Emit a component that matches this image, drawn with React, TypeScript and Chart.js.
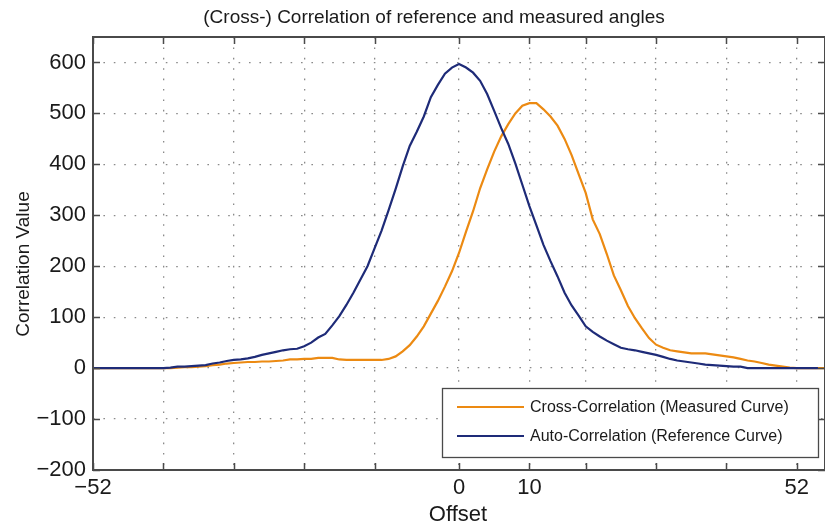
import React, { useEffect, useRef } from 'react';
import { Chart, registerables } from 'chart.js';

Chart.register(...registerables);

const chartTitle = '(Cross-) Correlation of reference and measured angles';
const xAxisTitle = 'Offset';
const yAxisTitle = 'Correlation Value';

const offsets = [
  -52, -51, -50, -49, -48, -47, -46, -45, -44, -43, -42, -41, -40, -39, -38, -37, -36, -35,
  -34, -33, -32, -31, -30, -29, -28, -27, -26, -25, -24, -23, -22, -21, -20, -19, -18, -17,
  -16, -15, -14, -13, -12, -11, -10, -9, -8, -7, -6, -5, -4, -3, -2, -1, 0, 1, 2, 3, 4, 5,
  6, 7, 8, 9, 10, 11, 12, 13, 14, 15, 16, 17, 18, 19, 20, 21, 22, 23, 24, 25, 26, 27, 28,
  29, 30, 31, 32, 33, 34, 35, 36, 37, 38, 39, 40, 41, 42, 43, 44, 45, 46, 47, 48, 49, 50,
  51, 52,
];

const crossCorrelation = [
  0, 0, 0, 0, 0, 0, 0, 0, 0, 0, 0, 0, 1, 2, 2, 3, 4, 6,
  7, 9, 10, 11, 12, 12, 13, 13, 14, 15, 17, 17, 18, 18, 20, 20, 20, 17,
  16, 16, 16, 16, 16, 16, 18, 23, 33, 45, 62, 82, 107, 132, 160, 190, 226, 268, 308, 353, 390, 425,
  455, 479, 500, 515, 520, 520, 508, 494, 476, 450, 418, 381, 344, 292, 263, 224, 182, 153, 122, 98, 78, 59, 46,
  40, 35, 33, 31, 29, 29, 29, 27, 25, 23, 21, 18, 15, 13, 10, 7, 5, 3, 1, 0, 0, 0,
  0, 0,
];

const autoCorrelation = [
  0, 0, 0, 0, 0, 0, 0, 0, 0, 0, 0, 1, 3, 3, 4, 5, 6, 9,
  11, 14, 16, 17, 19, 22, 26, 29, 32, 35, 37, 38, 43, 50, 60, 67, 84, 102,
  124, 148, 174, 200, 235, 270, 310, 352, 396, 436, 464, 494, 532, 556, 578, 590, 597, 590, 580, 564, 538, 505,
  471, 440, 402, 360, 318, 280, 242, 210, 180, 148, 123, 103, 82, 71, 62, 54, 47, 40, 37, 35, 32, 29, 26,
  22, 18, 15, 13, 11, 9, 7, 6, 5, 4, 3, 3, 0, 0, 0, 0, 0, 0, 0, 0, 0,
  0, 0,
];

const xTickValues = [-52, -42, -32, -22, -12, 0, 10, 18, 28, 38, 48];
const xTickLabels = ['\u221252', '', '', '', '', '0', '10', '', '', '', '52'];
const yTickValues = [-200, -100, 0, 100, 200, 300, 400, 500, 600];
const yTickLabels = ['\u2212200', '\u2212100', '0', '100', '200', '300', '400', '500', '600'];

const seriesNames = ['Cross-Correlation (Measured Curve)', 'Auto-Correlation (Reference Curve)'];
const seriesColors = ['#EC8A12', '#1E2B78'];

const FONT = '"Liberation Sans", Arial, Helvetica, sans-serif';
const TEXT = '#1a1a1a';
const AXIS = '#4a4a4a';
const GRID = '#8a8a8a';

const framePlugin = {
  id: 'matlabFrame',
  afterDraw(chart: any) {
    const { ctx, chartArea } = chart;
    const { left, right, top, bottom } = chartArea;
    const xs = chart.scales.x;
    const ys = chart.scales.y;
    ctx.save();
    ctx.strokeStyle = AXIS;
    ctx.lineWidth = 1.5;
    const tl = 7;
    ctx.beginPath();
    for (const v of xTickValues) {
      const px = Math.round(xs.getPixelForValue(v)) + 0.5;
      ctx.moveTo(px, bottom);
      ctx.lineTo(px, bottom - tl);
      ctx.moveTo(px, top);
      ctx.lineTo(px, top + tl);
    }
    for (const v of yTickValues) {
      const py = Math.round(ys.getPixelForValue(v)) + 0.5;
      ctx.moveTo(left, py);
      ctx.lineTo(left + tl, py);
      ctx.moveTo(right, py);
      ctx.lineTo(right - tl, py);
    }
    ctx.stroke();
    ctx.lineWidth = 2;
    ctx.strokeRect(left, top, right - left, bottom - top);

    // title
    ctx.fillStyle = TEXT;
    ctx.font = `19px ${FONT}`;
    ctx.textAlign = 'center';
    ctx.textBaseline = 'middle';
    ctx.fillText(chartTitle, 434, 18);

    // axis titles
    ctx.font = `22px ${FONT}`;
    ctx.fillText(xAxisTitle, 458, 515);
    ctx.save();
    ctx.translate(24, 264);
    ctx.rotate(-Math.PI / 2);
    ctx.font = `19px ${FONT}`;
    ctx.fillText(yAxisTitle, 0, 0);
    ctx.restore();

    // legend
    const lx = 442.5, ly = 388.5, lw = 376, lh = 69;
    ctx.fillStyle = '#ffffff';
    ctx.fillRect(lx, ly, lw, lh);
    ctx.strokeStyle = AXIS;
    ctx.lineWidth = 1.3;
    ctx.strokeRect(lx, ly, lw, lh);
    ctx.font = `16px ${FONT}`;
    ctx.textAlign = 'left';
    ctx.textBaseline = 'middle';
    const rows = [407, 436];
    seriesNames.forEach((name, i) => {
      ctx.strokeStyle = seriesColors[i];
      ctx.lineWidth = 2.2;
      ctx.beginPath();
      ctx.moveTo(457, rows[i]);
      ctx.lineTo(524, rows[i]);
      ctx.stroke();
      ctx.fillStyle = TEXT;
      ctx.fillText(name, 530, rows[i] + 1);
    });
    ctx.restore();
  },
};

export default function App() {
  const canvasRef = useRef<HTMLCanvasElement | null>(null);

  useEffect(() => {
    if (!canvasRef.current) return;
    const chart = new Chart(canvasRef.current, {
      type: 'line',
      data: {
        datasets: [
          {
            label: seriesNames[0],
            data: offsets.map((x, i) => ({ x, y: crossCorrelation[i] })),
            borderColor: seriesColors[0],
            borderWidth: 2.2,
            pointRadius: 0,
            tension: 0,
            fill: false,
            order: 1,
          },
          {
            label: seriesNames[1],
            data: offsets.map((x, i) => ({ x, y: autoCorrelation[i] })),
            borderColor: seriesColors[1],
            borderWidth: 2.2,
            pointRadius: 0,
            tension: 0,
            fill: false,
            order: 0,
          },
        ],
      },
      options: {
        responsive: false,
        animation: false,
        layout: { padding: { top: 37, right: 0, left: 0, bottom: 0 } },
        plugins: {
          legend: { display: false },
          title: { display: false },
          tooltip: { enabled: false },
        },
        scales: {
          x: {
            type: 'linear',
            min: -52,
            max: 52,
            afterBuildTicks: (s: any) => {
              s.ticks = xTickValues.map((v) => ({ value: v }));
            },
            afterFit: (s: any) => {
              s.height = 55;
            },
            ticks: {
              autoSkip: false,
              maxRotation: 0,
              padding: 5,
              color: TEXT,
              font: { family: FONT, size: 22 },
              callback: (_v: any, i: number) => xTickLabels[i],
            },
            grid: { color: GRID, lineWidth: 1.3, drawTicks: false },
            border: { display: false, dash: [1.6, 8.8] },
            title: { display: false },
          },
          y: {
            type: 'linear',
            min: -200,
            max: 650,
            afterBuildTicks: (s: any) => {
              s.ticks = yTickValues.map((v) => ({ value: v }));
            },
            afterFit: (s: any) => {
              s.width = 93;
            },
            ticks: {
              autoSkip: false,
              padding: 7,
              color: TEXT,
              font: { family: FONT, size: 22 },
              callback: (_v: any, i: number) => yTickLabels[i],
            },
            grid: { color: GRID, lineWidth: 1.3, drawTicks: false },
            border: { display: false, dash: [1.6, 8.8] },
            title: { display: false },
          },
        },
      },
      plugins: [framePlugin],
    } as any);
    return () => chart.destroy();
  }, []);

  return (
    <div style={{ position: 'absolute', left: 0, top: 0, width: 825, height: 525, background: '#fff' }}>
      <canvas ref={canvasRef} width={825} height={525} />
    </div>
  );
}
